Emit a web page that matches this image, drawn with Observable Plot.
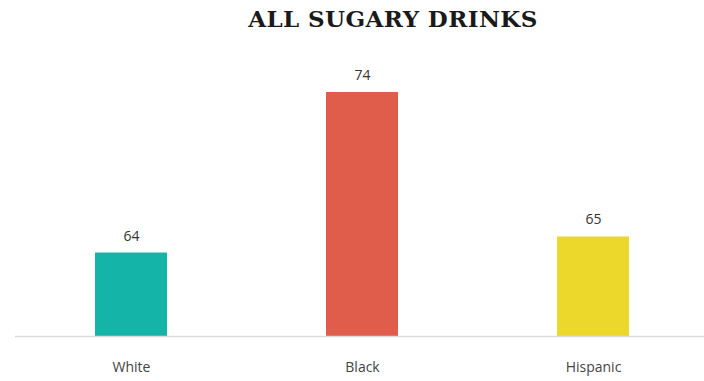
<!DOCTYPE html>
<html>
<head>
<meta charset="utf-8">
<script src="https://cdn.jsdelivr.net/npm/d3@7"></script>
<script src="https://cdn.jsdelivr.net/npm/@observablehq/plot@0.6"></script>
<style>
  html, body { margin: 0; padding: 0; background: #ffffff; }
  #wrap { position: relative; width: 704px; height: 381px; overflow: hidden; }
  #title {
    position: absolute; top: 5px; left: 393px; transform: translateX(-50%);
    font-family: "DejaVu Serif", serif; font-weight: bold; font-size: 23px;
    color: #1a1a1a; white-space: nowrap; letter-spacing: 0.4px;
  }
</style>
</head>
<body>
<div id="wrap">
  <div id="title">ALL SUGARY DRINKS</div>
</div>
<script>
const categories = ["White", "Black", "Hispanic"];
const values = [64, 74, 65];
const colors = ["#14b4a8", "#e05c4b", "#ecd82a"];
const yMin = 58.8;

const data = categories.map((c, i) => ({category: c, value: values[i], color: colors[i]}));

const chart = Plot.plot({
  width: 704,
  height: 381,
  marginLeft: 15,
  marginRight: 0,
  marginTop: 92,
  marginBottom: 45,
  style: {background: "transparent", fontFamily: "'Open Sans', sans-serif"},
  x: {domain: categories, range: [15, 708], paddingInner: 0.689, paddingOuter: 0.341, label: null},
  y: {domain: [yMin, 74], axis: null},
  marks: [
    Plot.barY(data, {x: "category", y1: () => yMin, y2: "value", fill: "color"}),
    Plot.ruleY([yMin], {stroke: "#dcdcdc", strokeWidth: 1.5}),
    Plot.text(data, {x: "category", y: "value", text: d => String(d.value), dy: -17,
      fontSize: 14, fill: "#333333"}),
    Plot.axisX({tickSize: 0, tickPadding: 26, fontSize: 14, color: "#444444", label: null})
  ]
});
document.getElementById("wrap").appendChild(chart);
chart.style.position = "absolute";
chart.style.left = "0";
chart.style.top = "0";
</script>
</body>
</html>
